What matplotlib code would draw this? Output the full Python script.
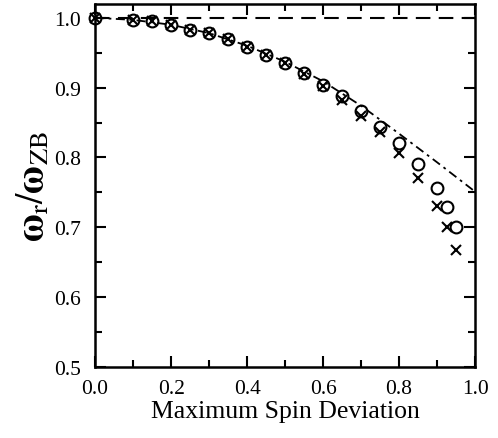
import matplotlib
matplotlib.use("Agg")
import matplotlib.pyplot as plt
from matplotlib.ticker import MultipleLocator

plt.rcParams['font.family'] = ['Liberation Serif', 'DejaVu Serif']
plt.rcParams['mathtext.fontset'] = 'stix'

# circles (o)
circ_x = [0.0, 0.1, 0.15, 0.2, 0.25, 0.3, 0.35, 0.4, 0.45, 0.5, 0.55, 0.6,
          0.65, 0.7, 0.75, 0.8, 0.85, 0.9, 0.925, 0.95]
circ_y = [1.0, 0.997, 0.995, 0.99, 0.983, 0.978, 0.969, 0.958, 0.947, 0.935, 0.921, 0.904,
          0.888, 0.867, 0.843, 0.820, 0.790, 0.756, 0.729, 0.700]
# crosses (x)
cross_x = circ_x
cross_y = [1.0, 0.997, 0.995, 0.99, 0.983, 0.978, 0.969, 0.958, 0.947, 0.935, 0.919, 0.902,
           0.882, 0.860, 0.836, 0.806, 0.771, 0.730, 0.700, 0.668]
# dash-dot curve
curve_x = [0.0, 0.1, 0.2, 0.3, 0.4, 0.5, 0.6, 0.7, 0.8, 0.9, 1.0]
curve_y = [1.0, 0.997, 0.99, 0.978, 0.96, 0.937, 0.909, 0.874, 0.834, 0.793, 0.751]
# dashed flat line
flat_x = [0.0, 1.0]
flat_y = [1.0, 1.0]

fig = plt.figure(figsize=(4.98, 4.39), dpi=100)
ax = fig.add_axes([0.191, 0.162, 0.763, 0.827])

ax.plot(flat_x, flat_y, color='black', lw=1.5, dashes=(7, 4))
ax.plot(curve_x, curve_y, color='black', lw=1.3, dashes=(5, 2.5, 1.5, 2.5))
ax.plot(circ_x, circ_y, 'o', mfc='none', mec='black', mew=1.5, ms=8.5, clip_on=False, zorder=5)
ax.plot(cross_x, cross_y, 'x', color='black', mew=1.5, ms=6.5, clip_on=False, zorder=5)

ax.set_xlim(0, 1.0)
ax.set_ylim(0.5, 1.02)
ax.xaxis.set_major_locator(MultipleLocator(0.2))
ax.xaxis.set_minor_locator(MultipleLocator(0.1))
ax.yaxis.set_major_locator(MultipleLocator(0.1))
ax.yaxis.set_minor_locator(MultipleLocator(0.05))
ax.tick_params(which='both', direction='in', top=True, right=True, width=1.5, labelsize=15.5)
ax.tick_params(which='major', length=8)
ax.tick_params(which='minor', length=5)
ax.tick_params(axis='x', pad=9)
ax.tick_params(axis='y', pad=10)
for s in ax.spines.values():
    s.set_linewidth(1.8)

ax.set_xlabel('Maximum Spin Deviation', fontsize=18.5, labelpad=1)
ax.set_ylabel(r'$\mathbf{\omega}_\mathrm{r}/\mathbf{\omega}_\mathrm{ZB}$', fontsize=27, labelpad=2)

fig.savefig('out.png', dpi=100)
